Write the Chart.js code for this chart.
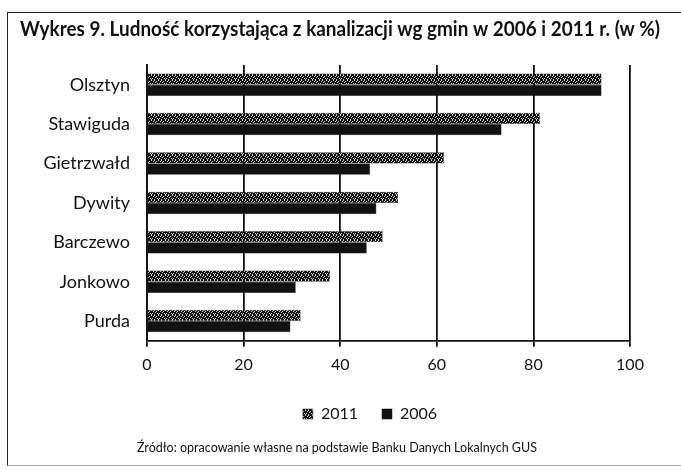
<!DOCTYPE html>
<html>
<head>
<meta charset="utf-8">
<script src="https://cdn.jsdelivr.net/npm/chart.js@4"></script>
<style>
  body { margin: 0; background: #fff; }
  #wrap { position: relative; width: 681px; height: 473px; }
  #frame { position: absolute; left: 7px; top: 12px; width: 690px; height: 452px;
           border-left: 1.5px solid #222; border-top: 1.5px solid #222; border-bottom: 1px solid #aaa; }
  canvas { position: absolute; left: 0; top: 0; }
</style>
</head>
<body>
<div id="wrap">
  <div id="frame"></div>
  <canvas id="chart" width="681" height="473"></canvas>
</div>
<script>
const categories = ["Olsztyn", "Stawiguda", "Gietrzwałd", "Dywity", "Barczewo", "Jonkowo", "Purda"];
const values2011 = [94.1, 81.4, 61.5, 52.0, 48.8, 37.9, 31.8];
const values2006 = [94.1, 73.4, 46.2, 47.5, 45.5, 30.8, 29.7];
const xTicks = [0, 20, 40, 60, 80, 100];

const font = "Lato, 'Open Sans', sans-serif";

// speckled dark grey fill like the scanned 2011 bars
function speckle() {
  const c = document.createElement("canvas");
  c.width = 7; c.height = 5;
  const g = c.getContext("2d");
  g.fillStyle = "#161616";
  g.fillRect(0, 0, 7, 5);
  g.fillStyle = "#c8c8c8";
  [[0,0],[4,0],[2,1],[6,1],[1,2],[5,3],[3,3],[0,4],[4,4]].forEach(p => g.fillRect(p[0], p[1], 1, 1));
  return g.createPattern(c, "repeat");
}

// nudge title, legend and source line to where they sit in the original
const boxShift = {
  id: "boxShift",
  afterLayout(chart) {
    chart.titleBlock.right = 660;
    chart.legend.left += 45;
    chart.legend.right += 45;
    const sub = chart.boxes.find(b => b.options && b.options.text && String(b.options.text).startsWith("Źródło"));
    if (sub) { sub.left += 12; sub.right += 12; }
  }
};

const ctx = document.getElementById("chart").getContext("2d");
const chart = new Chart(ctx, {
  type: "bar",
  data: {
    labels: categories,
    datasets: [
      { label: "2011", data: values2011, backgroundColor: speckle(), borderColor: "#222", borderWidth: 0.5 },
      { label: "2006", data: values2006, backgroundColor: "#111", borderColor: "#111", borderWidth: 0.5 }
    ]
  },
  options: {
    indexAxis: "y",
    responsive: false,
    animation: false,
    layout: { padding: { left: 20, right: 51, top: 4, bottom: 6 } },
    datasets: { bar: { categoryPercentage: 0.57, barPercentage: 1 } },
    scales: {
      x: {
        min: 0, max: 100,
        afterBuildTicks: axis => { axis.ticks = xTicks.map(v => ({ value: v })); },
        grid: { color: "#111", lineWidth: 1.8, tickLength: 6 },
        border: { color: "#111", width: 1.8 },
        ticks: { color: "#111", font: { family: font, size: 16 }, padding: 8 }
      },
      y: {
        afterFit: axis => { axis.width = 127; },
        grid: { display: false, drawTicks: false },
        border: { color: "#111", width: 1.8 },
        ticks: { color: "#111", font: { family: font, size: 18 }, padding: 17 }
      }
    },
    plugins: {
      title: {
        display: true,
        align: "start",
        text: "Wykres 9. Ludność korzystająca z kanalizacji wg gmin w 2006 i 2011 r. (w %)",
        color: "#111",
        font: { family: font, size: 20, weight: "bold" },
        padding: { top: 14, bottom: 23 }
      },
      subtitle: {
        display: true,
        position: "bottom",
        text: "Źródło: opracowanie własne na podstawie Banku Danych Lokalnych GUS",
        color: "#111",
        font: { family: font, size: 12.5 },
        padding: { top: 8, bottom: 12 }
      },
      legend: {
        position: "bottom",
        labels: { color: "#111", font: { family: font, size: 16 }, boxWidth: 10, boxHeight: 10, padding: 24 }
      },
      tooltip: { enabled: false }
    }
  },
  plugins: [boxShift]
});
</script>
</body>
</html>
